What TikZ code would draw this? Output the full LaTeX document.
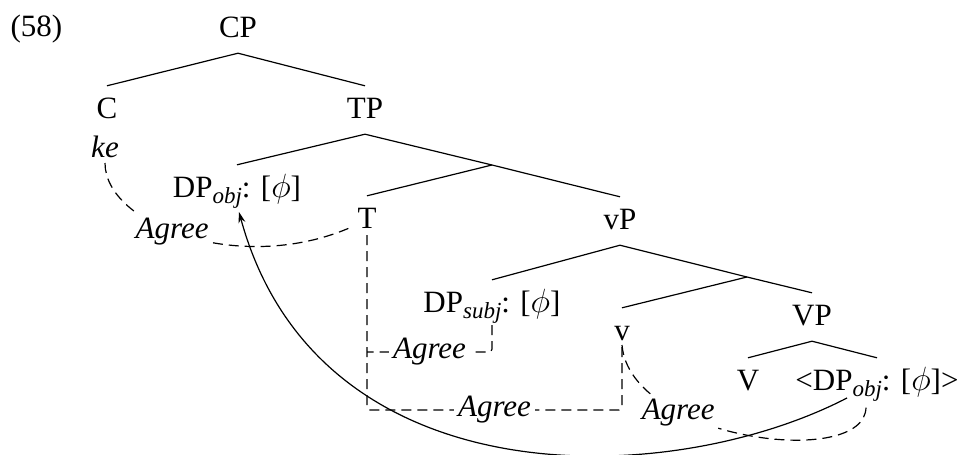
\documentclass[tikz,border=0pt]{standalone}
\usepackage{amsmath}
\usepackage{graphicx}
\usepackage{fontspec}
\setmainfont{Liberation Serif}
\usetikzlibrary{arrows.meta}
\newcommand{\lsub}[1]{\raisebox{-6pt}{\fontsize{23}{23}\selectfont\itshape #1}}
\newcommand{\feat}{[\scalebox{1.35}{$\phi$}]}

\begin{document}
\begin{tikzpicture}[x=1pt,y=-1pt,
  every node/.style={font=\fontsize{31}{37}\selectfont},
  cat/.style={anchor=base,text height=21pt,text depth=5pt,inner ysep=11pt,inner xsep=1pt},
  lbl/.style={font=\fontsize{31}{37}\selectfont\itshape,fill=white,inner sep=4pt},
  tree/.style={line width=1.2pt},
  agree/.style={line width=1.2pt,dash pattern=on 10pt off 6pt,rounded corners=3pt}]
  \useasboundingbox (0,0) rectangle (961,455);
  \node[anchor=base west] (ex) at (7,36) {(58)};
  \node[cat] (cp) at (238,37) {CP};
  \node[cat] (c) at (107,118) {C};
  \node[cat] (tp) at (365,118) {TP};
  \node[anchor=base,font=\fontsize{31}{37}\selectfont\itshape] (ke) at (105,157) {ke};
  \node[cat] (dpobj) at (237,197) {DP\lsub{obj}: \feat};
  \coordinate (tbar) at (492,165);
  \node[cat] (t) at (367,228) {T};
  \node[cat] (vp) at (620,229) {vP};
  \node[cat] (dpsubj) at (492,312) {DP\lsub{subj}: \feat};
  \coordinate (vbar) at (747,277);
  \node[cat] (v) at (622,340) {v};
  \node[cat] (vpbig) at (812,325) {VP};
  \node[cat] (vv) at (748,390) {V};
  \node[cat] (dpobjlow) at (877,390) {<DP\lsub{obj}: \feat>};
  \draw[tree] (c.north) -- (cp.south) -- (tp.north);
  \draw[tree] (dpobj.north) -- (tp.south) -- (tbar);
  \draw[tree] (t.north) -- (tbar) -- (vp.north);
  \draw[tree] (dpsubj.north) -- (vp.south) -- (vbar);
  \draw[tree] (v.north) -- (vbar) -- (vpbig.north);
  \draw[tree] (vv.north) -- (vpbig.south) -- (dpobjlow.north);
  \draw[agree] ([yshift=-6pt]ke.base) .. controls +(0,62) and +(-110,47) .. node[lbl,pos=0.45] {Agree} ([xshift=-7pt]t.base west);
  \draw[agree] ([yshift=-7pt]t.base) -- ++(0,175) -| node[lbl,pos=0.25] {Agree} ([yshift=-4pt]v.base);
  \draw[agree] ([yshift=-13pt]dpsubj.base) |- node[lbl,pos=0.75] {Agree} ([yshift=-124pt]t.base);
  \draw[agree] ([yshift=-5pt]v.base) .. controls +(8,95) and +(0,63) .. node[lbl,pos=0.3] {Agree} ([xshift=-11pt,yshift=-17pt]dpobjlow.base);
  \draw[tree,-{Stealth[length=11pt,width=7pt]}] ([xshift=-30pt,yshift=-8pt]dpobjlow.base) .. controls +(-178,92) and +(79,289) .. ([xshift=2pt,yshift=-15pt]dpobj.base);
\end{tikzpicture}
\end{document}
